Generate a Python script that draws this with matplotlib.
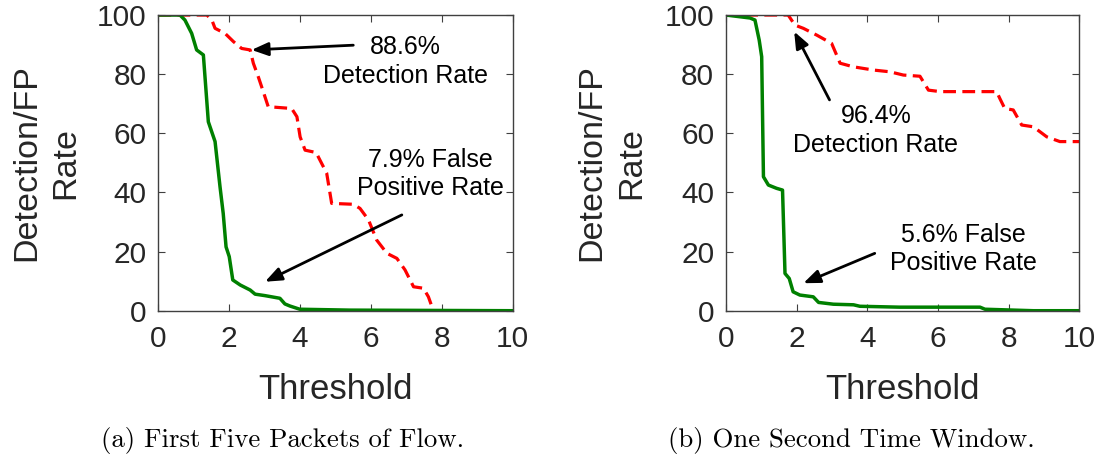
import numpy as np
import matplotlib.pyplot as plt

# ----------------------------
# Curves (threshold, rate in %)
# ----------------------------
# (a) first five packets of flow
a_det_x = [0, 1.37, 1.51, 1.60, 1.88, 2.12, 2.35, 2.59, 2.68, 2.82, 2.96, 3.10,
           3.76, 3.91, 4.00, 4.14, 4.45, 4.75, 4.89, 5.50, 5.69, 5.93, 6.16,
           6.45, 6.73, 6.96, 7.20, 7.48, 7.62, 7.76, 10]
a_det_y = [100, 100, 98.3, 95.5, 93.8, 91.0, 88.7, 88.2, 83.7, 79.1, 74.1, 69.0,
           68.4, 65.6, 58.8, 54.3, 53.5, 46.5, 36.3, 36.0, 34.6, 30.7, 23.9,
           19.4, 17.7, 13.8, 8.1, 7.6, 4.7, 0, 0]
a_fp_x = [0, 0.61, 0.75, 0.94, 1.08, 1.27, 1.41, 1.60, 1.74, 1.83, 1.91, 2.00,
          2.10, 2.31, 2.59, 2.73, 3.01, 3.43, 3.57, 3.71, 3.99, 5.4, 10]
a_fp_y = [100, 100, 98.3, 93.8, 88.2, 86.5, 63.9, 57.2, 41.9, 32.9, 21.6, 18.3,
          10.4, 8.7, 7.0, 5.6, 5.1, 4.2, 2.3, 1.6, 0.5, 0.2, 0]

# (b) one second time window
b_det_x = [0, 1.76, 1.95, 2.19, 2.57, 2.99, 3.13, 3.23, 3.60, 4.17, 4.64, 5.02,
           5.49, 5.73, 6.06, 7.66, 7.75, 7.89, 8.13, 8.37, 8.70, 9.08, 9.45, 10]
b_det_y = [100, 100, 96.6, 95.5, 93.2, 90.4, 86.5, 83.7, 82.5, 81.4, 80.8, 79.7,
           79.3, 74.6, 74.1, 74.1, 71.8, 68.4, 67.9, 62.8, 62.2, 58.8, 57.2, 57.2]
b_fp_x = [0, 0.68, 0.82, 0.94, 1.01, 1.06, 1.20, 1.43, 1.60, 1.67, 1.79, 1.90,
          2.09, 2.47, 2.62, 3.04, 3.61, 3.79, 4.92, 7.19, 7.33, 8.7, 10]
b_fp_y = [100, 99, 98.3, 91.5, 85.9, 45.3, 42.5, 41.4, 40.8, 12.6, 10.9, 6.4,
          5.3, 4.7, 2.8, 2.2, 2.0, 1.5, 1.2, 1.2, 0.5, 0, 0]

captions = ["(a) First Five Packets of Flow.", "(b) One Second Time Window."]
det_notes = ["88.6%\nDetection Rate", "96.4%\nDetection Rate"]
fp_notes = ["7.9% False\nPositive Rate", "5.6% False\nPositive Rate"]

TXT = "#262626"
plt.rcParams["font.family"] = "Liberation Sans"

fig = plt.figure(figsize=(11.02, 4.57), dpi=100)
ax_a = fig.add_axes([0.1437, 0.3201, 0.3216, 0.647])
ax_b = fig.add_axes([0.6588, 0.3201, 0.3206, 0.647])

panels = [
    (ax_a, a_det_x, a_det_y, a_fp_x, a_fp_y,
     (6.96, 84.2), (2.63, 88.2), (5.50, 89.8),
     (7.67, 46.2), (3.01, 9.8), (6.87, 32.4), -0.317),
    (ax_b, b_det_x, b_det_y, b_fp_x, b_fp_y,
     (4.24, 60.9), (1.93, 94.4), (2.93, 71.3),
     (6.71, 20.9), (2.19, 9.3), (4.21, 19.4), -0.323),
]

for i, (ax, dx, dy, fx, fy, dtxt, dhead, dtail, ftxt, fhead, ftail, yl) in enumerate(panels):
    ax.plot(dx, dy, color="#ff0000", lw=2.3, dashes=(4, 2))
    ax.plot(fx, fy, color="#008000", lw=2.5)

    ax.set_xlim(0, 10)
    ax.set_ylim(0, 100)
    ax.set_xticks(np.arange(0, 11, 2))
    ax.set_yticks(np.arange(0, 101, 20))
    ax.tick_params(direction="in", top=True, right=True, length=5,
                   labelsize=21.5, colors="#404040", labelcolor=TXT)
    ax.tick_params(axis="y", pad=8.5)
    ax.tick_params(axis="x", pad=10.5)
    for s in ax.spines.values():
        s.set_color("#404040")
        s.set_linewidth(1.0)

    ax.set_xlabel("Threshold", fontsize=25, color=TXT)
    ax.xaxis.set_label_coords(0.5, -0.2986)
    ax.xaxis.label.set_verticalalignment("baseline")
    ax.set_ylabel("Detection/FP\nRate", fontsize=24.5, color=TXT,
                  linespacing=1.35)
    ax.yaxis.set_label_coords(yl, 0.5)
    ax.yaxis.label.set_verticalalignment("center")

    ax.text(*dtxt, det_notes[i], fontsize=18, ha="center", va="center",
            multialignment="center", color="black", linespacing=1.25)
    ax.text(*ftxt, fp_notes[i], fontsize=18, ha="center", va="center",
            multialignment="center", color="black", linespacing=1.25)
    for head, tail in [(dhead, dtail), (fhead, ftail)]:
        ax.annotate("", xy=head, xytext=tail,
                    arrowprops=dict(arrowstyle="-|>,head_length=1.0,head_width=0.4",
                                    color="black", lw=2, shrinkA=0, shrinkB=0))

fig.text(282.5 / 1102, 1 - 447 / 457, captions[0], fontsize=19.3,
         family="cmr10", ha="center", va="baseline")
fig.text(851 / 1102, 1 - 447 / 457, captions[1], fontsize=19.3,
         family="cmr10", ha="center", va="baseline")

fig.savefig("out.png", dpi=100)
